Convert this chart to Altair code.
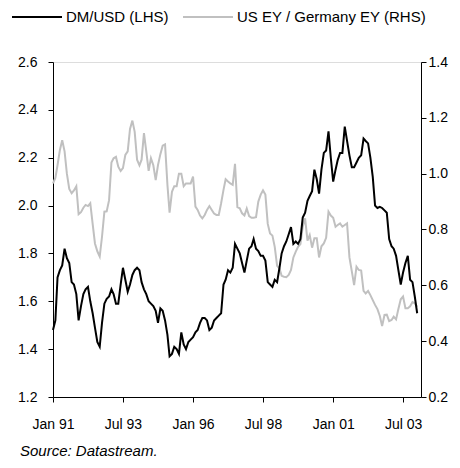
import altair as alt
import pandas as pd

# DM/USD monthly, Jan 1991 - Jan 2004 (left axis)
dm_usd = [
    1.48, 1.52, 1.70, 1.73, 1.75, 1.82, 1.78, 1.76, 1.68, 1.67, 1.63, 1.52,
    1.58, 1.63, 1.65, 1.66, 1.60, 1.55, 1.49, 1.43, 1.41, 1.51, 1.59, 1.61,
    1.62, 1.65, 1.63, 1.59, 1.59, 1.67, 1.74, 1.69, 1.64, 1.67, 1.71, 1.73,
    1.74, 1.73, 1.68, 1.65, 1.63, 1.60, 1.59, 1.58, 1.56, 1.51, 1.57, 1.56,
    1.52, 1.46, 1.37, 1.38, 1.41, 1.40, 1.38, 1.47, 1.42, 1.40, 1.43, 1.44,
    1.45, 1.47, 1.48, 1.51, 1.53, 1.53, 1.52, 1.48, 1.49, 1.52, 1.53, 1.54,
    1.55, 1.67, 1.69, 1.73, 1.72, 1.74, 1.84, 1.82, 1.80, 1.76, 1.72, 1.77,
    1.82, 1.83, 1.86, 1.82, 1.81, 1.79, 1.79, 1.77, 1.68, 1.67, 1.66, 1.69,
    1.68, 1.74, 1.80, 1.83, 1.85, 1.88, 1.91, 1.84, 1.85, 1.84, 1.86, 1.95,
    1.97, 2.02, 2.04, 2.06, 2.15, 2.11, 2.05, 2.15, 2.22, 2.23, 2.31, 2.20,
    2.10, 2.15, 2.19, 2.22, 2.22, 2.33, 2.27, 2.21, 2.16, 2.16, 2.18, 2.20,
    2.21, 2.28, 2.27, 2.26, 2.20, 2.12, 2.00, 1.99, 1.995, 1.99, 1.98, 1.97,
    1.86, 1.83, 1.82, 1.79, 1.73, 1.67, 1.72, 1.76, 1.79, 1.69, 1.68, 1.62,
    1.55,
]

# US earnings yield / Germany earnings yield (right axis)
ey_ratio = [
    0.965, 0.985, 1.03, 1.085, 1.12, 1.08, 1.00, 0.945, 0.93, 0.94, 0.955, 0.855,
    0.862, 0.878, 0.888, 0.884, 0.894, 0.82, 0.75, 0.722, 0.703, 0.774, 0.864, 0.865,
    0.905, 1.04, 1.055, 1.06, 1.025, 1.01, 1.02, 1.067, 1.08, 1.16, 1.19, 1.15,
    1.05, 1.03, 1.05, 1.145, 1.08, 1.01, 1.055, 1.03, 0.977, 1.031, 1.07, 1.10,
    1.105, 0.96, 0.86, 0.935, 0.955, 0.955, 1.00, 1.00, 0.955, 0.965, 0.965, 0.965,
    0.99, 0.882, 0.87, 0.85, 0.84, 0.852, 0.87, 0.884, 0.87, 0.857, 0.852, 0.852,
    0.894, 0.942, 0.98, 0.972, 0.965, 0.96, 1.035, 0.88, 0.876, 0.858, 0.85, 0.875,
    0.848, 0.842, 0.842, 0.844, 0.90, 0.925, 0.94, 0.925, 0.82, 0.786, 0.778, 0.738,
    0.67, 0.66, 0.634, 0.631, 0.629, 0.637, 0.655, 0.70, 0.721, 0.738, 0.748, 0.81,
    0.84, 0.76, 0.78, 0.735, 0.769, 0.769, 0.70, 0.74, 0.75, 0.77, 0.864, 0.85,
    0.842, 0.81, 0.816, 0.822, 0.81, 0.816, 0.822, 0.70, 0.65, 0.601, 0.667, 0.655,
    0.653, 0.58, 0.571, 0.58, 0.565, 0.547, 0.53, 0.515, 0.49, 0.454, 0.494, 0.495,
    0.472, 0.476, 0.488, 0.478, 0.515, 0.55, 0.56, 0.518, 0.518, 0.525, 0.54, 0.536,
    0.523,
]

series_names = ["DM/USD (LHS)", "US EY / Germany EY (RHS)"]
series_colors = ["#000000", "#c0c0c0"]
x_tick_dates = [(1991, 1), (1993, 7), (1996, 1), (1998, 7), (2001, 1), (2003, 7)]
left_ticks = [1.2, 1.4, 1.6, 1.8, 2.0, 2.2, 2.4, 2.6]
right_ticks = [0.2, 0.4, 0.6, 0.8, 1.0, 1.2, 1.4]

months = pd.date_range("1991-01-01", periods=len(dm_usd), freq="MS")
df_dm = pd.DataFrame({"date": months, "value": dm_usd, "series": series_names[0]})
df_ey = pd.DataFrame({"date": months, "value": ey_ratio, "series": series_names[1]})

FONT = "Liberation Sans"

x_enc = alt.X(
    "date:T",
    scale=alt.Scale(domain=[alt.DateTime(year=1991, month=1, date=1),
                            alt.DateTime(year=2004, month=2, date=20)]),
    axis=alt.Axis(
        values=[alt.DateTime(year=y, month=m, date=1) for y, m in x_tick_dates],
        format="%b %y", title=None, grid=False, labelFontSize=14,
        tickSize=5, labelPadding=15, domainColor="#000", tickColor="#000",
        labelColor="#000", labelFont=FONT, labelFlush=False,
    ),
)

color_enc = alt.Color(
    "series:N",
    scale=alt.Scale(domain=series_names, range=series_colors),
    legend=alt.Legend(
        title=None, orient="none", legendX=-42, legendY=-71, direction="horizontal",
        symbolType="stroke", symbolSize=2500, symbolStrokeWidth=2,
        labelFontSize=15, labelFont=FONT, labelColor="#000", labelOffset=3,
        labelLimit=0, columnPadding=10, symbolOffset=0,
    ),
)

left = alt.Chart(df_dm).mark_line(strokeWidth=2).encode(
    x=x_enc,
    y=alt.Y("value:Q", scale=alt.Scale(domain=[1.2, 2.6], nice=False, zero=False),
            axis=alt.Axis(values=left_ticks, format=".1f", title=None, grid=False,
                          orient="left", labelFontSize=14, labelFont=FONT,
                          tickSize=5, labelPadding=11, domainColor="#000",
                          tickColor="#000", labelColor="#000")),
    color=color_enc,
)

right = alt.Chart(df_ey).mark_line(strokeWidth=2).encode(
    x=x_enc,
    y=alt.Y("value:Q", scale=alt.Scale(domain=[0.2, 1.4], nice=False, zero=False),
            axis=alt.Axis(values=right_ticks, format=".1f", title=None, grid=False,
                          orient="right", labelFontSize=14, labelFont=FONT,
                          tickSize=5, labelPadding=2, domainColor="#000",
                          tickColor="#000", labelColor="#000")),
    color=color_enc,
)

chart = alt.layer(right, left).resolve_scale(y="independent").properties(
    width=368, height=335,
    autosize=alt.AutoSizeParams(type="none"),
    padding={"left": 45, "top": 54, "right": 31, "bottom": 62},
    title=alt.TitleParams(
        "Source: Datastream.", orient="bottom", anchor="start", frame="group",
        fontStyle="italic", fontWeight="normal", fontSize=15, font=FONT,
        color="#000", dx=-33, offset=13,
    ),
).configure_view(stroke=None).configure(background="white")

chart.save("out.html", embed_options={"renderer": "svg", "actions": False})
